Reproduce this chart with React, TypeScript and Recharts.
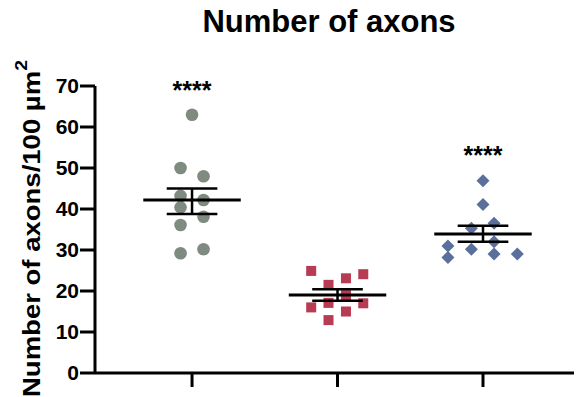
import { ScatterChart, Scatter, XAxis, YAxis, ReferenceLine, Label } from 'recharts';

const FONT = '"Liberation Sans", Arial, Helvetica, sans-serif';

// x = group position (1..3) plus the scatter offset seen in the plot
const groupA = [
  { x: 1, y: 63 }, { x: 0.921, y: 50 }, { x: 1.079, y: 48 }, { x: 0.921, y: 43.2 },
  { x: 1.079, y: 42.2 }, { x: 0.921, y: 40.4 }, { x: 1.079, y: 38.1 }, { x: 0.921, y: 36.1 },
  { x: 1.079, y: 30.2 }, { x: 0.921, y: 29.2 },
];
const groupB = [
  { x: 1.819, y: 24.9 }, { x: 2.058, y: 23.1 }, { x: 2.177, y: 24.1 }, { x: 1.938, y: 21.5 },
  { x: 2.058, y: 19 }, { x: 1.938, y: 17.1 }, { x: 1.819, y: 16 }, { x: 2.177, y: 17 },
  { x: 2.058, y: 15 }, { x: 1.938, y: 12.9 },
];
const groupC = [
  { x: 3, y: 46.9 }, { x: 3, y: 41.1 }, { x: 2.92, y: 35.3 }, { x: 3.076, y: 36.5 },
  { x: 3.076, y: 32 }, { x: 2.759, y: 31 }, { x: 2.92, y: 30.2 }, { x: 3.076, y: 29 },
  { x: 3.236, y: 29 }, { x: 2.759, y: 28.2 },
];

const groupPos = [1, 2, 3];
const means = [42.2, 19, 33.9];
const semHigh = [45, 20.4, 35.9];
const semLow = [38.8, 17.6, 32];

const stars = [
  { x: 1, y: 69.3, text: '****' },
  { x: 3, y: 53.5, text: '****' },
];

const yTicks = [0, 10, 20, 30, 40, 50, 60, 70];

const MEAN_HALF = 0.335;
const CAP_HALF = 0.174;

const Circle = (p: any) => <circle cx={p.cx} cy={p.cy} r={6.3} fill="#7f8a80" />;
const Square = (p: any) => <rect x={p.cx - 5} y={p.cy - 5} width={10} height={10} fill="#b73b52" />;
const Diamond = (p: any) => (
  <polygon
    points={`${p.cx},${p.cy - 6.5} ${p.cx + 6.5},${p.cy} ${p.cx},${p.cy + 6.5} ${p.cx - 6.5},${p.cy}`}
    fill="#5b6f9c"
  />
);
const Stars = (p: any) => (
  <text x={p.cx} y={p.cy + 10.5} textAnchor="middle" fontFamily={FONT} fontWeight="bold" fontSize={25} fill="#000">
    {p.payload.text}
  </text>
);

const YLabel = () => (
  <text
    transform="translate(32, 389) rotate(-90)"
    fontFamily={FONT}
    fontWeight="bold"
    fontSize={24}
    fill="#000"
    textLength={337}
    lengthAdjust="spacingAndGlyphs"
  >
    Number of axons/100 µm
    <tspan dy={-13} fontSize={17}>2</tspan>
  </text>
);

export default function App() {
  return (
    <div style={{ position: 'relative', width: 574, height: 389 }}>
      <div
        style={{
          position: 'absolute', left: 0, width: 642, top: -4, textAlign: 'center',
          fontFamily: FONT, fontWeight: 'bold', fontSize: 31, lineHeight: '36px', color: '#000',
        }}
      >
        Number of axons
      </div>
      <ScatterChart width={574} height={389} margin={{ top: 78, right: 4, bottom: 0, left: 0 }}>
        <XAxis
          type="number"
          dataKey="x"
          domain={[0.333, 3.653]}
          ticks={groupPos}
          tickFormatter={() => ''}
          height={24}
          tickSize={14}
          axisLine={{ stroke: '#000', strokeWidth: 3 }}
          tickLine={{ stroke: '#000', strokeWidth: 3 }}
        />
        <YAxis
          type="number"
          dataKey="y"
          domain={[0, 70]}
          ticks={yTicks}
          interval={0}
          width={87}
          tickSize={15}
          tickMargin={1}
          axisLine={{ stroke: '#000', strokeWidth: 3 }}
          tickLine={{ stroke: '#000', strokeWidth: 3 }}
          tick={{ fill: '#000', fontSize: 21, fontWeight: 'bold', fontFamily: FONT }}
        >
          <Label content={YLabel} />
        </YAxis>
        <Scatter data={groupA} shape={Circle} isAnimationActive={false} />
        <Scatter data={groupB} shape={Square} isAnimationActive={false} />
        <Scatter data={groupC} shape={Diamond} isAnimationActive={false} />
        <Scatter data={stars} shape={Stars} isAnimationActive={false} />
        {groupPos.map((g, i) => (
          <ReferenceLine
            key={`m${i}`}
            segment={[{ x: g - MEAN_HALF, y: means[i] }, { x: g + MEAN_HALF, y: means[i] }]}
            stroke="#000"
            strokeWidth={3}
            zIndex={700}
          />
        ))}
        {groupPos.map((g, i) => (
          <ReferenceLine
            key={`h${i}`}
            segment={[{ x: g - CAP_HALF, y: semHigh[i] }, { x: g + CAP_HALF, y: semHigh[i] }]}
            stroke="#000"
            strokeWidth={2.5}
            zIndex={700}
          />
        ))}
        {groupPos.map((g, i) => (
          <ReferenceLine
            key={`l${i}`}
            segment={[{ x: g - CAP_HALF, y: semLow[i] }, { x: g + CAP_HALF, y: semLow[i] }]}
            stroke="#000"
            strokeWidth={2.5}
            zIndex={700}
          />
        ))}
        {groupPos.map((g, i) => (
          <ReferenceLine
            key={`v${i}`}
            segment={[{ x: g, y: semLow[i] }, { x: g, y: semHigh[i] }]}
            stroke="#000"
            strokeWidth={2.5}
            zIndex={700}
          />
        ))}
      </ScatterChart>
    </div>
  );
}
